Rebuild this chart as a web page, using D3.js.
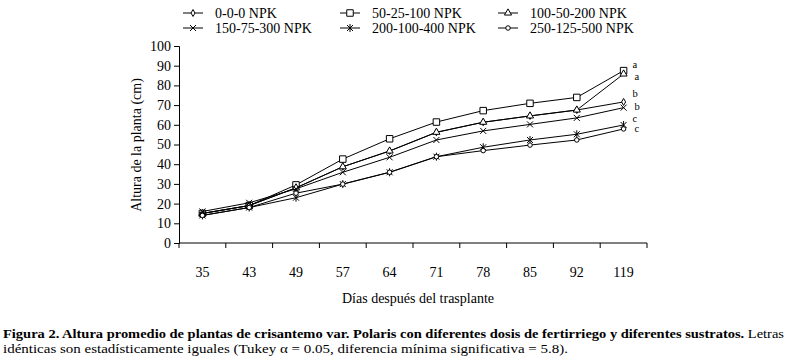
<!DOCTYPE html>
<html><head><meta charset="utf-8">
<script src="https://cdn.jsdelivr.net/npm/d3@7"></script>
<style>
html,body{margin:0;padding:0;background:#fff;}
svg text{font-family:"Liberation Serif",serif;}
</style></head>
<body><svg id="c" width="786" height="363"></svg>
<script>
const days = ["35","43","49","57","64","71","78","85","92","119"];
const seriesNames = ["0-0-0 NPK","50-25-100 NPK","100-50-200 NPK","150-75-300 NPK","200-100-400 NPK","250-125-500 NPK"];
const s000   = [15, 19, 28, 38.7, 46.7, 56.2, 61.3, 64.5, 67.5, 71.6];
const s50    = [15, 19, 29.5, 42.6, 52.9, 61.4, 67.2, 70.9, 73.9, 87.5];
const s100   = [15, 19, 28, 38.7, 46.7, 56.2, 61.3, 64.5, 67.5, 85.8];
const s150   = [16, 20.4, 27.5, 35.9, 43.5, 52.3, 56.9, 60.2, 63.5, 68.7];
const s200   = [14, 18, 23, 29.9, 35.9, 43.8, 48.6, 52.3, 55.2, 59.9];
const s250   = [14, 18, 25.3, 29.9, 35.9, 43.8, 46.9, 49.7, 52.3, 57.9];
const letters = ["b","a","a","b","c","c"];
const yTicks = [0,10,20,30,40,50,60,70,80,90,100];
const yTitle = "Altura de la planta (cm)";
const xTitle = "Días después del trasplante";
const caption1Bold = "Figura 2. Altura promedio de plantas de crisantemo var. Polaris con diferentes dosis de fertirriego y diferentes sustratos.";
const caption1Rest = " Letras";
const caption2 = "idénticas son estadísticamente iguales (Tukey α = 0.05, diferencia mínima significativa = 5.8).";

const values = [s000, s50, s100, s150, s200, s250];
const markerTypes = ["diamond","square","triangle","x","star","circle"];
const letterDy = [-8.5, -6.5, 2.8, -1, -6.5, 0];
const letterDx = [9, 9, 11, 11, 9, 11];
const FF = "Liberation Serif, Times New Roman, serif";

const svg = d3.select("#c");
const x = d3.scaleBand().domain(days).range([179, 647]);
const y = d3.scaleLinear().domain([0, 100]).range([243, 46]);

function markerPath(t){
  if(t==="diamond") return d3.symbol(d3.symbolDiamond, 14)();
  if(t==="square") return d3.symbol(d3.symbolSquare, 42)();
  if(t==="triangle") return d3.symbol(d3.symbolTriangle, 22)();
  if(t==="circle") return d3.symbol(d3.symbolCircle, 16)();
  if(t==="x") return "M-3,-3L3,3M-3,3L3,-3";
  if(t==="star") return "M0,-4L0,4M-3,-3L3,3M-3,3L3,-3";
}

// y axis
const yAxis = d3.axisLeft(y).tickValues(yTicks).tickSize(5).tickPadding(3);
const gy = svg.append("g").attr("transform","translate(179,0)").call(yAxis).attr("font-family",FF);
gy.selectAll("text").attr("font-size",14).attr("font-family",FF).attr("fill","#000");
gy.selectAll("line,path").attr("stroke","#000");

// x axis
const gx = svg.append("g").attr("transform","translate(0,243)");
gx.append("line").attr("x1",x.range()[0]).attr("x2",x.range()[1]).attr("stroke","#000");
const bounds = days.map(d=>x(d)).concat([x.range()[1]]);
gx.selectAll("line.t").data(bounds).join("line").attr("class","t")
  .attr("x1",d=>d).attr("x2",d=>d).attr("y1",0).attr("y2",5).attr("stroke","#000");
gx.selectAll("text").data(days).join("text")
  .attr("x",d=>x(d)+x.bandwidth()/2).attr("y",34).attr("text-anchor","middle")
  .attr("font-family",FF).attr("font-size",14).text(d=>d);

svg.append("text").attr("x",418).attr("y",303).attr("text-anchor","middle").attr("font-family",FF).attr("font-size",14).text(xTitle);
svg.append("text").attr("transform","translate(141,145) rotate(-90)").attr("text-anchor","middle").attr("font-family",FF).attr("font-size",14).text(yTitle);

// series
const cx = d => x(d)+x.bandwidth()/2;
const line = d3.line().x((v,i)=>cx(days[i])).y(v=>y(v));
values.forEach((vals,si)=>{
  const g = svg.append("g");
  g.append("path").attr("d",line(vals)).attr("fill","none").attr("stroke","#000").attr("stroke-width",1);
  g.selectAll("path.m").data(vals).join("path").attr("class","m")
    .attr("transform",(v,i)=>`translate(${cx(days[i])},${y(v)})`)
    .attr("d",markerPath(markerTypes[si]))
    .attr("fill","#fff").attr("stroke","#000").attr("stroke-width",1);
  const last = vals.length-1;
  g.append("text").attr("x",cx(days[last])+letterDx[si]).attr("y",y(vals[last])+letterDy[si]+3.5)
    .attr("font-family",FF).attr("font-size",10.5).text(letters[si]);
});

// legend
const legCols = [183, 340, 498];
const legRows = [13, 28];
seriesNames.forEach((n,i)=>{
  const lx = legCols[i%3], ly = legRows[Math.floor(i/3)];
  const g = svg.append("g").attr("transform",`translate(${lx},${ly})`);
  g.append("line").attr("x1",0).attr("x2",20).attr("y1",0).attr("y2",0).attr("stroke","#000");
  g.append("path").attr("transform","translate(10,0)").attr("d",markerPath(markerTypes[i]))
    .attr("fill","#fff").attr("stroke","#000");
  g.append("text").attr("x",32).attr("y",5).attr("font-family",FF).attr("font-size",14).text(n);
});

// caption
const c1 = svg.append("text").attr("x",3).attr("y",338).attr("font-family",FF).attr("font-size",12.5).attr("textLength",781).attr("lengthAdjust","spacingAndGlyphs");
c1.append("tspan").attr("font-weight","bold").text(caption1Bold);
c1.append("tspan").text(caption1Rest);
svg.append("text").attr("x",3).attr("y",353).attr("font-family",FF).attr("font-size",12.5).attr("textLength",565).attr("lengthAdjust","spacingAndGlyphs").text(caption2);
</script></body></html>
